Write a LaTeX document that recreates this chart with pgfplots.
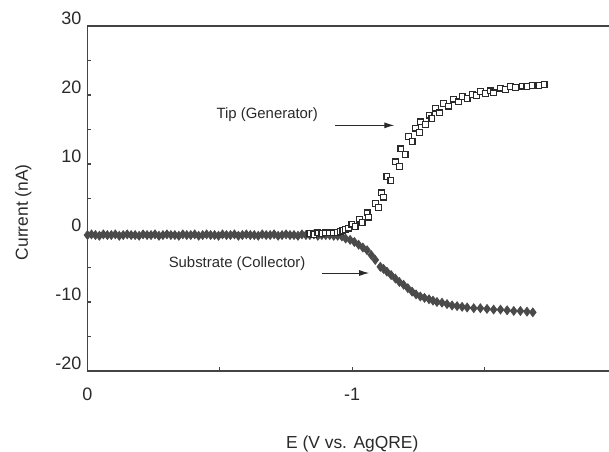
\documentclass[border=0pt]{standalone}
\usepackage{pgfplots}
\pgfplotsset{compat=1.18}
\usepackage{fontspec}
\setmainfont{Liberation Sans}
\usetikzlibrary{arrows.meta}
\definecolor{ink}{HTML}{2A2A2A}
\definecolor{axc}{HTML}{444444}
\begin{document}
\begin{tikzpicture}
\begin{axis}[
  scale only axis,
  width=264.75pt, height=172.5pt,
  xmin=-2, xmax=0, ymin=-20, ymax=30,
  x dir=reverse,
  axis line style={axc, line width=0.7pt},
  xtick={0,-0.5,-1,-1.5,-2},
  xticklabels={0,,-1,,-2},
  ytick={-20,-15,-10,-5,0,5,10,15,20,25,30},
  yticklabels={-20,,-10,,0,,10,,20,,30},
  xtick pos=bottom, ytick pos=left,
  tick align=inside,
  major tick length=2pt,
  tick style={axc, line width=0.6pt},
  ticklabel style={font=\fontsize{9}{10}\selectfont, text=ink},
  xticklabel style={yshift=-5pt},
  yticklabel style={yshift=4pt, xshift=0.5pt},
  xlabel={E (V vs. AgQRE)},
  ylabel={Current (nA)},
  label style={font=\fontsize{8.7}{10}\selectfont, text=ink},
  xlabel style={at={(rel axis cs:0.5,0)}, anchor=center, yshift=-36.75pt},
  ylabel style={at={(rel axis cs:-0.1209,0.46)}, anchor=center},
  clip=false,
]
\coordinate (SW) at (rel axis cs:0,0);
\coordinate (NE) at (rel axis cs:1,1);
% Substrate (Collector): filled diamonds
\addplot[only marks, mark=diamond*, mark size=2.2pt, color=ink!85, mark options={fill=ink!85, line width=0.4pt}] coordinates {
(0,-0.3) (-0.015,-0.2) (-0.03,-0.3) (-0.045,-0.4) (-0.06,-0.2) (-0.075,-0.3) (-0.09,-0.3)
(-0.105,-0.2) (-0.12,-0.4) (-0.135,-0.3) (-0.15,-0.2) (-0.165,-0.3) (-0.18,-0.3) (-0.195,-0.4)
(-0.21,-0.2) (-0.225,-0.3) (-0.24,-0.3) (-0.255,-0.2) (-0.27,-0.4) (-0.285,-0.3) (-0.30,-0.2)
(-0.315,-0.3) (-0.33,-0.3) (-0.345,-0.4) (-0.36,-0.2) (-0.375,-0.3) (-0.39,-0.3) (-0.405,-0.2)
(-0.42,-0.4) (-0.435,-0.3) (-0.45,-0.2) (-0.465,-0.3) (-0.48,-0.3) (-0.495,-0.4) (-0.51,-0.2)
(-0.525,-0.3) (-0.54,-0.3) (-0.555,-0.2) (-0.57,-0.4) (-0.585,-0.3) (-0.60,-0.2) (-0.615,-0.3)
(-0.63,-0.3) (-0.645,-0.4) (-0.66,-0.2) (-0.675,-0.3) (-0.69,-0.3) (-0.705,-0.2) (-0.72,-0.4)
(-0.735,-0.3) (-0.75,-0.2) (-0.765,-0.3) (-0.78,-0.3) (-0.795,-0.4) (-0.81,-0.2) (-0.825,-0.3)
(-0.84,-0.3) (-0.855,-0.2) (-0.87,-0.4) (-0.885,-0.3) (-0.90,-0.3) (-0.915,-0.3) (-0.93,-0.4)
(-0.945,-0.4) (-0.961,-0.5) (-0.975,-0.8) (-0.992,-1.0) (-1.008,-1.3) (-1.024,-1.7) (-1.040,-2.1)
(-1.056,-2.5) (-1.072,-3.2) (-1.087,-3.9) (-1.106,-4.9) (-1.118,-5.2) (-1.131,-5.6) (-1.147,-6.1)
(-1.163,-6.6) (-1.178,-7.1) (-1.194,-7.5) (-1.210,-8.0) (-1.226,-8.5) (-1.241,-8.9) (-1.257,-9.2)
(-1.273,-9.4) (-1.290,-9.6) (-1.305,-9.8) (-1.320,-10.0) (-1.339,-10.1) (-1.358,-10.3) (-1.377,-10.5)
(-1.396,-10.6) (-1.415,-10.7) (-1.434,-10.8) (-1.459,-10.9) (-1.484,-10.9) (-1.509,-11.0) (-1.534,-11.1)
(-1.560,-11.1) (-1.585,-11.2) (-1.610,-11.3) (-1.635,-11.3) (-1.660,-11.4) (-1.682,-11.5)
};
% Tip (Generator): open squares
\addplot[only marks, mark=square*, mark size=1.45pt, color=ink, mark options={fill=white, line width=0.6pt}] coordinates {
(-0.84,-0.1) (-0.855,-0.2) (-0.87,0.0) (-0.885,-0.1) (-0.90,0.0) (-0.915,0.0)
(-0.93,0.0) (-0.945,0.1) (-0.955,0.2) (-0.965,0.4) (-0.974,0.5) (-0.985,0.7)
(-0.999,1.3) (-1.011,0.9) (-1.028,2.0) (-1.037,1.5) (-1.056,2.9) (-1.062,2.3)
(-1.087,4.3) (-1.100,3.7) (-1.110,5.8) (-1.119,5.2) (-1.131,8.2) (-1.146,7.6)
(-1.163,10.3) (-1.179,9.6) (-1.184,12.2) (-1.200,11.4) (-1.213,14.0) (-1.226,13.3)
(-1.238,15.2) (-1.254,14.6) (-1.257,16.1) (-1.276,15.7) (-1.290,17.1) (-1.301,16.6)
(-1.314,18.1) (-1.330,17.4) (-1.345,18.8) (-1.364,18.4) (-1.383,19.4) (-1.402,19.0)
(-1.415,19.8) (-1.434,19.5) (-1.453,20.1) (-1.469,19.9) (-1.484,20.5) (-1.503,20.2)
(-1.522,20.6) (-1.534,20.3) (-1.560,21.0) (-1.578,20.8) (-1.597,21.2) (-1.616,21.1)
(-1.642,21.3) (-1.660,21.2) (-1.679,21.4) (-1.705,21.4) (-1.725,21.5)
};
\node[font=\fontsize{7.45}{9}\selectfont, text=ink] at (axis cs:-0.679,17.2) {Tip (Generator)};
\draw[ink, line width=0.5pt, -{Latex[length=5pt,width=3pt]}] (axis cs:-0.936,15.6) -- (axis cs:-1.159,15.6);
\node[font=\fontsize{7.45}{9}\selectfont, text=ink] at (axis cs:-0.565,-4.5) {Substrate (Collector)};
\draw[ink, line width=0.5pt, -{Latex[length=5pt,width=3pt]}] (axis cs:-0.885,-5.8) -- (axis cs:-1.064,-5.8);
\end{axis}
\pgfresetboundingbox
\path[use as bounding box] ([xshift=-43.75pt,yshift=-40.5pt]SW) rectangle ([xshift=-4pt,yshift=13pt]NE);
\end{tikzpicture}
\end{document}
